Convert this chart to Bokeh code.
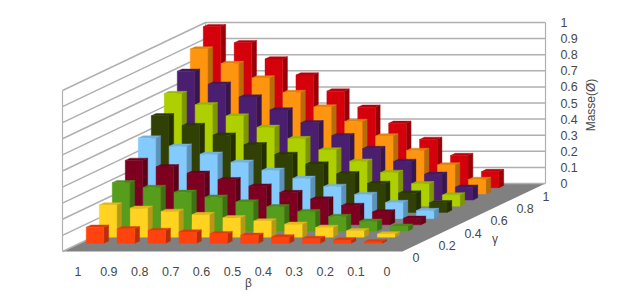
import math
from bokeh.plotting import figure
from bokeh.models import Range1d, LinearAxis, FixedTicker
from bokeh.core.properties import value
from bokeh.embed import file_html
from bokeh.resources import INLINE

beta_labels = ["1", "0.9", "0.8", "0.7", "0.6", "0.5", "0.4", "0.3", "0.2", "0.1", "0"]
gamma_labels = ["0", "0.2", "0.4", "0.6", "0.8", "1"]
gamma_label_rows = [0, 2, 4, 6, 8, 10]
mass_ticks = [0, 0.1, 0.2, 0.3, 0.4, 0.5, 0.6, 0.7, 0.8, 0.9, 1]

# one list per gamma series, front to back; columns follow beta_labels
gamma_00 = [0, 0, 0, 0, 0, 0, 0, 0, 0, 0, 0]
gamma_01 = [0.10, 0.09, 0.08, 0.07, 0.06, 0.05, 0.04, 0.03, 0.02, 0.01, 0]
gamma_02 = [0.20, 0.18, 0.16, 0.14, 0.12, 0.10, 0.08, 0.06, 0.04, 0.02, 0]
gamma_03 = [0.30, 0.27, 0.24, 0.21, 0.18, 0.15, 0.12, 0.09, 0.06, 0.03, 0]
gamma_04 = [0.40, 0.36, 0.32, 0.28, 0.24, 0.20, 0.16, 0.12, 0.08, 0.04, 0]
gamma_05 = [0.50, 0.45, 0.40, 0.35, 0.30, 0.25, 0.20, 0.15, 0.10, 0.05, 0]
gamma_06 = [0.60, 0.54, 0.48, 0.42, 0.36, 0.30, 0.24, 0.18, 0.12, 0.06, 0]
gamma_07 = [0.70, 0.63, 0.56, 0.49, 0.42, 0.35, 0.28, 0.21, 0.14, 0.07, 0]
gamma_08 = [0.80, 0.72, 0.64, 0.56, 0.48, 0.40, 0.32, 0.24, 0.16, 0.08, 0]
gamma_09 = [0.90, 0.81, 0.72, 0.63, 0.54, 0.45, 0.36, 0.27, 0.18, 0.09, 0]
gamma_10 = [1.00, 0.90, 0.80, 0.70, 0.60, 0.50, 0.40, 0.30, 0.20, 0.10, 0]
series = [gamma_00, gamma_01, gamma_02, gamma_03, gamma_04, gamma_05,
          gamma_06, gamma_07, gamma_08, gamma_09, gamma_10]
colors = ["#004586", "#ff420e", "#ffd320", "#579d1c", "#7e0021", "#83caff",
          "#314004", "#aecf00", "#4b1f6f", "#ff950e", "#d4000c"]

N_COL = 11
N_ROW = 11
COL_PX = 30.9
VAL_PX = 161.0
ROW_DX = 13.0 / COL_PX   # shear of one gamma row, in column units
ROW_DY = 6.18 / VAL_PX   # rise of one gamma row, in value units
BACK = N_ROW * ROW_DY
BAR_W = 0.57
BAR_D = 0.37
GRID = "#b0b0b0"
TEXT = "#484848"
W, H = 629, 294
LEFT_PX, ZERO_PX = 62.0, 183.0   # window pixel of the left wall, and of value 0 on the back wall


def pt(col, row, val=0.0):
    return col + row * ROW_DX, val + row * ROW_DY - BACK


def shade(hex_color, f):
    rgb = [int(hex_color[i:i + 2], 16) for i in (1, 3, 5)]
    rgb = [int(c * f) for c in rgb]
    return "#%02x%02x%02x" % tuple(rgb)


p = figure(width=W, height=H, output_backend="svg", toolbar_location=None,
           x_range=Range1d(-LEFT_PX / COL_PX, (W - LEFT_PX) / COL_PX),
           y_range=Range1d(-(H - ZERO_PX) / VAL_PX, ZERO_PX / VAL_PX),
           min_border=0, background_fill_color="white", border_fill_color="white",
           outline_line_color=None, y_axis_location=None, x_axis_location=None)
p.grid.visible = False

# floor
corners = [pt(0, 0), pt(N_COL, 0), pt(N_COL, N_ROW), pt(0, N_ROW)]
p.patch([c[0] for c in corners], [c[1] for c in corners], fill_color="#808080", line_color=None)

# walls: grid lines run along the left wall, then the back wall
gx, gy = [], []
for v in mass_ticks:
    a, b, c = pt(0, 0, v), pt(0, N_ROW, v), pt(N_COL, N_ROW, v)
    gx.append([a[0], b[0], c[0]])
    gy.append([a[1], b[1], c[1]])
p.multi_line(gx, gy, line_color=GRID, line_width=1.5)
for rr in (0, N_ROW):
    a, b = pt(0, rr, 0), pt(0, rr, 1)
    p.line([a[0], b[0]], [a[1], b[1]], line_color=GRID, line_width=1.2)

# bars, back row first
for r in range(N_ROW - 1, -1, -1):
    col = colors[r]
    for c in range(N_COL - 1, -1, -1):
        v = series[r][c]
        if v <= 0:
            continue
        cl, cr = c + (1 - BAR_W) / 2, c + (1 + BAR_W) / 2
        rf, rb = r + (1 - BAR_D) / 2, r + (1 + BAR_D) / 2
        faces = [
            ([pt(cr, rf), pt(cr, rb), pt(cr, rb, v), pt(cr, rf, v)], shade(col, 0.72)),
            ([pt(cl, rf, v), pt(cr, rf, v), pt(cr, rb, v), pt(cl, rb, v)], shade(col, 0.88)),
            ([pt(cl, rf), pt(cr, rf), pt(cr, rf, v), pt(cl, rf, v)], col),
        ]
        for poly, fc in faces:
            p.patch([q[0] for q in poly], [q[1] for q in poly],
                    fill_color=fc, line_color=fc, line_width=0.4)

# beta axis along the front edge of the floor
beta_axis = LinearAxis(ticker=FixedTicker(ticks=[i + 0.5 for i in range(N_COL)]),
                       fixed_location=pt(0, 0)[1], bounds=(0, N_COL),
                       major_label_overrides={i + 0.5: s for i, s in enumerate(beta_labels)},
                       axis_line_color=None, major_tick_line_color=None, minor_tick_line_color=None,
                       major_label_text_font="Liberation Sans", major_label_text_font_size="12.5px",
                       major_label_text_color=TEXT, major_label_standoff=10)
p.add_layout(beta_axis, "below")

# mass axis up the right edge of the back wall
mass_axis = LinearAxis(ticker=FixedTicker(ticks=mass_ticks), bounds=(0, 1),
                       fixed_location=pt(N_COL, N_ROW)[0],
                       major_label_overrides={v: ("%g" % v) for v in mass_ticks},
                       axis_line_color=GRID, axis_line_width=1.2,
                       major_tick_line_color=None, minor_tick_line_color=None,
                       major_label_text_font="Liberation Sans", major_label_text_font_size="12.5px",
                       major_label_text_color=TEXT, major_label_standoff=9)
p.add_layout(mass_axis, "right")

# gamma tick labels sit just off the right edge of the floor
gxs, gys = [], []
for r in gamma_label_rows:
    x, y = pt(N_COL, r + 0.5)
    gxs.append(x + 3.5 / COL_PX)
    gys.append(y - 9.5 / VAL_PX)
p.text(gxs, gys, text=gamma_labels, text_align="left", text_baseline="middle",
       text_font=value("Liberation Sans"), text_font_size="12.5px", text_color=TEXT)

x, y = pt(N_COL, 5.5)
p.text([x + 18 / COL_PX], [y - 22 / VAL_PX], text=["γ"], text_align="left", text_baseline="middle",
       text_font=value("Liberation Sans"), text_font_size="12px", text_color=TEXT)
x, y = pt(5.5, 0)
p.text([x + 16 / COL_PX], [y - 32 / VAL_PX], text=["β"], text_align="center", text_baseline="middle",
       text_font=value("Liberation Sans"), text_font_size="12px", text_color=TEXT)
x, y = pt(N_COL, N_ROW, 0.5)
p.text([x + 46 / COL_PX], [y + 2 / VAL_PX * -1], text=["Masse(Ø)"], angle=[math.pi / 2], text_align="center", text_baseline="middle",
       text_font=value("Liberation Sans"), text_font_size="12px", text_color=TEXT)

open("out.html", "w").write(file_html(p, INLINE))
